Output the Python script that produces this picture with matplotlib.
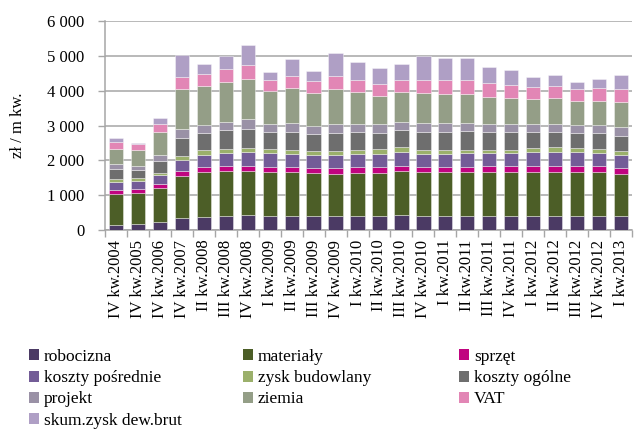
import matplotlib
matplotlib.use("Agg")
import matplotlib.pyplot as plt
from matplotlib.patches import Patch
from matplotlib.ticker import FuncFormatter, FixedLocator

plt.rcParams['font.family'] = ['Liberation Serif', 'DejaVu Serif']

quarters = ["IV kw.2004", "IV kw.2005", "IV kw.2006", "IV kw.2007", "II kw.2008",
            "III kw.2008", "IV kw.2008", "I kw.2009", "II kw.2009", "III kw.2009",
            "IV kw.2009", "I kw.2010", "II kw.2010", "III kw.2010", "IV kw.2010",
            "I kw.2011", "II kw.2011", "III kw.2011", "IV kw.2011", "I kw.2012",
            "II kw.2012", "III kw.2012", "IV kw.2012", "I kw.2013"]

robocizna = [150, 170, 230, 345, 375, 395, 420, 415, 400, 400, 400, 400, 400, 420,
             410, 410, 410, 410, 410, 410, 410, 410, 410, 400]
materialy = [880, 880, 965, 1205, 1295, 1295, 1265, 1245, 1255, 1225, 1220, 1245,
             1245, 1265, 1245, 1245, 1245, 1245, 1245, 1255, 1265, 1245, 1245, 1205]
sprzet = [125, 115, 115, 135, 145, 145, 155, 145, 145, 145, 155, 155, 155, 165,
          145, 155, 155, 175, 175, 165, 165, 175, 175, 165]
koszty_posrednie = [220, 230, 260, 315, 345, 365, 385, 395, 375, 385, 375, 375, 385,
                    400, 385, 375, 395, 375, 375, 400, 395, 400, 385, 395]
zysk_budowlany = [95, 95, 75, 115, 125, 125, 135, 125, 125, 125, 105, 135, 135, 125,
                  125, 125, 105, 105, 105, 115, 135, 115, 115, 115]
koszty_ogolne = [270, 230, 335, 525, 500, 535, 545, 480, 515, 480, 525, 500, 460, 500,
                 500, 500, 525, 500, 500, 460, 440, 430, 450, 430]
projekt = [145, 105, 165, 260, 230, 250, 290, 240, 250, 230, 270, 240, 250, 230,
           270, 270, 240, 240, 240, 230, 240, 230, 230, 240]
ziemia = [430, 470, 660, 1140, 1120, 1150, 1150, 940, 1005, 940, 995, 910, 815, 855,
          850, 825, 825, 765, 745, 720, 730, 690, 700, 720]
vat = [200, 165, 240, 365, 355, 355, 400, 325, 365, 335, 375, 345, 355, 335, 365,
       395, 395, 400, 375, 355, 365, 355, 355, 365]
skum_zysk = [125, 40, 170, 625, 285, 375, 575, 240, 480, 295, 670, 515, 460, 470,
             690, 625, 640, 460, 430, 295, 315, 210, 280, 415]

series = [
    ("robocizna", robocizna, "#4b3a64"),
    ("materiały", materialy, "#4c5e27"),
    ("sprzęt", sprzet, "#c0047f"),
    ("koszty pośrednie", koszty_posrednie, "#735c97"),
    ("zysk budowlany", zysk_budowlany, "#9bb06b"),
    ("koszty ogólne", koszty_ogolne, "#6e6e6e"),
    ("projekt", projekt, "#9a91a6"),
    ("ziemia", ziemia, "#949e87"),
    ("VAT", vat, "#e286b5"),
    ("skum.zysk dew.brut", skum_zysk, "#af9fc5"),
]

W, H = 638, 432
fig = plt.figure(figsize=(W / 100, H / 100), dpi=100)
ax = fig.add_axes([105 / W, 1 - 230 / H, (632 - 105) / W, (230 - 21) / H])

x = list(range(len(quarters)))
bottom = [0] * len(quarters)
for name, vals, col in series:
    ax.bar(x, vals, width=0.65, bottom=bottom, color=col,
           edgecolor=(1, 1, 1, 0.45), linewidth=0.6, zorder=3)
    bottom = [b + v for b, v in zip(bottom, vals)]

grid_col = "#a6a6a6"
ax.set_xlim(-0.5, len(quarters) - 0.5)
ax.set_ylim(0, 6000)
ax.set_yticks(range(0, 6001, 1000))
ax.yaxis.set_major_formatter(FuncFormatter(lambda v, p: f"{int(v):,}".replace(",", " ")))
ax.yaxis.grid(True, color=grid_col, linewidth=1.1, zorder=0)
ax.set_axisbelow(True)

ax.set_xticks(x)
ax.set_xticklabels(quarters, rotation=90, ha="center", va="top")
ax.xaxis.set_minor_locator(FixedLocator([i - 0.5 for i in range(len(quarters) + 1)]))
ax.tick_params(axis="x", which="major", length=0, pad=7, labelsize=12)
ax.tick_params(axis="x", which="minor", length=5, color=grid_col, width=1.0)
ax.tick_params(axis="y", length=5, color=grid_col, width=1.0, pad=10, labelsize=12)

for s in ("top", "right"):
    ax.spines[s].set_visible(False)
for s in ("left", "bottom"):
    ax.spines[s].set_color(grid_col)
    ax.spines[s].set_linewidth(1.1)

fig.text(18 / W, 1 - 125 / H, "zł / m kw.", rotation=90, ha="center", va="center",
         fontsize=12)

# legend laid out in three columns, filled row by row
handles = [Patch(facecolor=c, edgecolor="none") for _, _, c in series]
labels = [n for n, _, _ in series]
columns = [[0, 3, 6, 9], [1, 4, 7], [2, 5, 8]]
col_x = [29, 243, 459]
for cx, idxs in zip(col_x, columns):
    fig.legend([handles[i] for i in idxs], [labels[i] for i in idxs],
               loc="upper left", bbox_to_anchor=(cx / W, 1 - 349 / H),
               frameon=False, fontsize=12.5, borderpad=0, borderaxespad=0,
               handlelength=0.6, handleheight=0.6, handletextpad=0.25,
               labelspacing=0.3)

fig.savefig("out.png", dpi=100, facecolor="white")
